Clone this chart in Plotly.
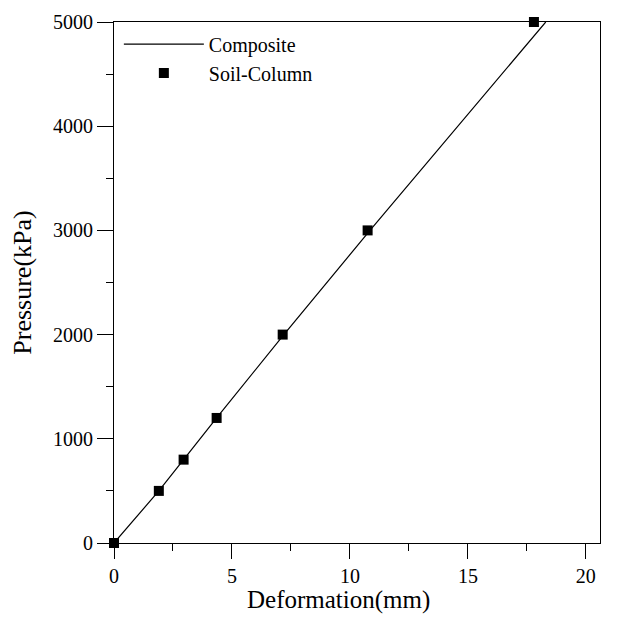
import plotly.graph_objects as go

# Measured data (Soil-Column test points)
deformation_mm = [0.0, 1.9, 2.95, 4.35, 7.15, 10.75, 17.8]
pressure_kpa = [0, 500, 800, 1200, 2000, 3000, 5000]

# Composite (calculated) curve
composite_x = [0.0, 1.9, 2.95, 4.35, 7.2, 10.85, 18.3]
composite_y = [0, 500, 800, 1200, 2000, 3000, 5000]

x_ticks = [0, 5, 10, 15, 20]
y_ticks = [0, 1000, 2000, 3000, 4000, 5000]

FONT = "Liberation Serif"

fig = go.Figure()
fig.add_trace(go.Scatter(
    x=composite_x, y=composite_y, mode="lines", name="Composite",
    line=dict(color="black", width=1.2), cliponaxis=False,
))
fig.add_trace(go.Scatter(
    x=deformation_mm, y=pressure_kpa, mode="markers", name="Soil-Column",
    marker=dict(symbol="square", size=10, color="black"), cliponaxis=False,
))

fig.update_layout(
    width=626, height=627,
    margin=dict(l=106, r=34, t=14, b=92),
    paper_bgcolor="white", plot_bgcolor="white",
    font=dict(family=FONT, color="black", size=18),
    showlegend=True,
    legend=dict(
        x=0.01, y=0.995, xanchor="left", yanchor="top",
        bgcolor="rgba(0,0,0,0)", font=dict(family=FONT, size=20),
        itemwidth=80, tracegroupgap=0,
    ),
    xaxis=dict(
        range=[0, 20.6], tickvals=x_ticks, ticktext=[str(v) for v in x_ticks],
        showgrid=False, zeroline=False, showline=True, linecolor="black",
        linewidth=1, mirror=True, ticks="outside", ticklen=15, tickwidth=1,
        tickcolor="black", tickfont=dict(size=20), automargin=False,
        minor=dict(ticks="outside", tickvals=[2.5, 7.5, 12.5, 17.5], ticklen=7,
                   tickcolor="black", tickwidth=1),
    ),
    yaxis=dict(
        range=[0, 5000], tickvals=y_ticks, ticktext=[str(v) for v in y_ticks],
        showgrid=False, zeroline=False, showline=True, linecolor="black",
        linewidth=1, mirror=True, ticks="outside", ticklen=16, tickwidth=1,
        tickcolor="black", tickfont=dict(size=20), automargin=False,
        minor=dict(ticks="outside", tickvals=[500, 1500, 2500, 3500, 4500],
                   ticklen=7, tickcolor="black", tickwidth=1),
        title=dict(text="Pressure(kPa)", font=dict(size=26), standoff=14),
    ),
    annotations=[dict(
        text="Deformation(mm)", xref="paper", yref="paper",
        x=0.462, y=-0.11, xanchor="center", yanchor="middle",
        showarrow=False, font=dict(family=FONT, size=25),
    )],
)

fig.write_html("out.html")
